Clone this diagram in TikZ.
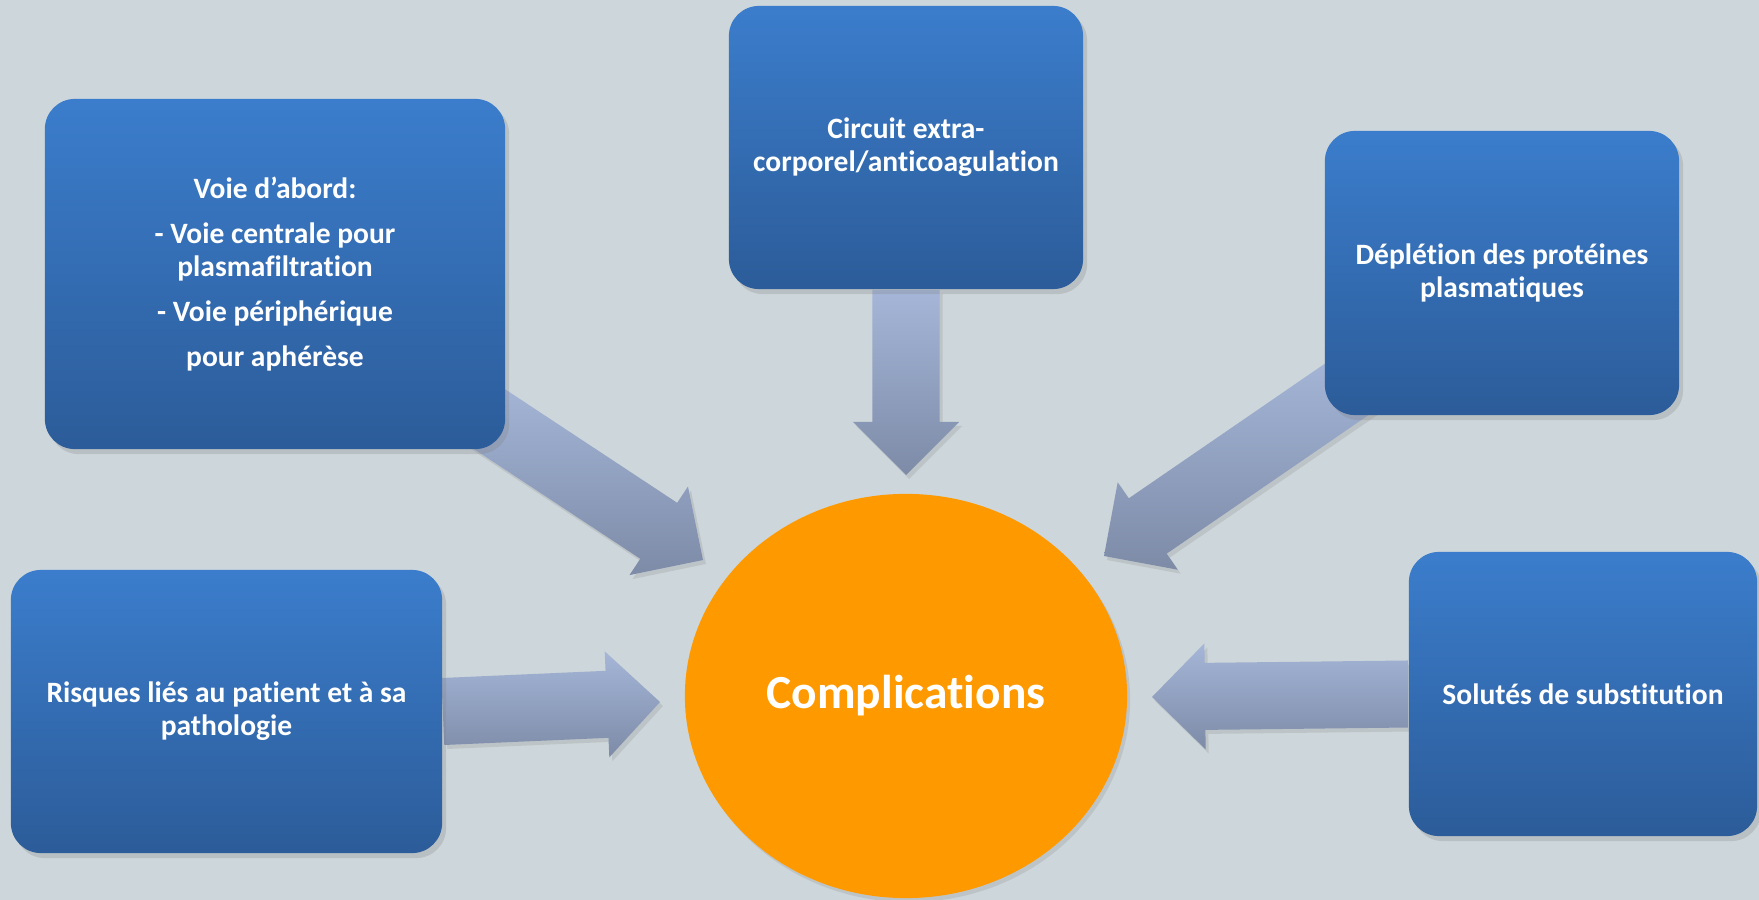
\documentclass[tikz,border=0pt]{standalone}
\usepackage{fontspec}
\setmainfont{Carlito}[Ligatures=NoCommon]
\usepackage{tikz}
\usetikzlibrary{calc,shapes.geometric,shadows}
\usepackage{xcolor}

\definecolor{bgpanel}{RGB}{205,214,218}
\definecolor{boxtop}{RGB}{59,125,204}
\definecolor{boxbot}{RGB}{44,92,153}
\definecolor{flowtop}{RGB}{165,182,216}
\definecolor{flowbot}{RGB}{125,139,167}
\definecolor{coreorange}{RGB}{255,153,0}

\pgfdeclarelayer{bg}
\pgfdeclarelayer{flows}
\pgfsetlayers{bg,flows,main}

% block arrow: #1 name, #2 start, #3 tip
\newcommand{\fatarrow}[3]{%
  \coordinate (#1h) at ($(#3)!0.53cm!(#2)$);
  \path[flow] ($(#2)!0.335cm!90:(#3)$) -- ($(#1h)!0.335cm!90:(#3)$)
    -- ($(#1h)!0.53cm!90:(#3)$) -- (#3) -- ($(#1h)!0.53cm!-90:(#3)$)
    -- ($(#1h)!0.335cm!-90:(#3)$) -- ($(#2)!0.335cm!-90:(#3)$) -- cycle;
}

\tikzset{
  box/.style={rectangle,rounded corners=0.3cm,top color=boxtop,bottom color=boxbot,
    text=white,align=center,inner sep=2pt,
    font=\fontsize{8.4}{9.4}\selectfont\bfseries,
    drop shadow={shadow xshift=0.04cm,shadow yshift=-0.05cm,opacity=0.25}},
  flow/.style={top color=flowtop,bottom color=flowbot,
    drop shadow={shadow xshift=0.03cm,shadow yshift=-0.04cm,opacity=0.2}},
  core/.style={ellipse,fill=coreorange,text=white,inner sep=0pt,
    minimum width=4.42cm,minimum height=4.04cm,
    font=\fontsize{13.5}{16}\selectfont\bfseries,
    drop shadow={shadow xshift=0.03cm,shadow yshift=-0.04cm,opacity=0.2}}
}

\begin{document}
\begin{tikzpicture}[x=0.01cm,y=-0.01cm]
\begin{pgfonlayer}{bg}
\fill[bgpanel] (0,0) rectangle (1759,900);
\end{pgfonlayer}
\useasboundingbox (0,0) rectangle (1759,900);

% centre
\node[core] (comp) at (906,696) {Complications};

% causes
\node[box,minimum width=4.6cm,minimum height=3.5cm] (abord) at (275,274)
  {Voie d’abord:\\[3.4pt] - Voie centrale pour\\ plasmafiltration\\[3.4pt]
   - Voie périphérique\\[3.4pt] pour aphérèse};
\node[box,minimum width=3.54cm,minimum height=2.83cm] (circuit) at (906,147.5)
  {Circuit extra-\\corporel/anticoagulation};
\node[box,minimum width=3.54cm,minimum height=2.84cm] (depl) at (1502,273)
  {Déplétion des protéines\\plasmatiques};
\node[box,minimum width=4.31cm,minimum height=2.83cm] (risk) at (226.5,711.5)
  {Risques liés au patient et à sa\\pathologie};
\node[box,minimum width=3.48cm,minimum height=2.84cm] (solut) at (1583,694)
  {Solutés de substitution};

% arrow tips
\coordinate (t1) at (703,560);
\coordinate (t2) at (906,475);
\coordinate (t3) at (1104,556);
\coordinate (t4) at (660,702);
\coordinate (t5) at (1152,697);

\begin{pgfonlayer}{flows}
\fatarrow{a1}{$(abord.south east)+(-35,-43)$}{t1}
\fatarrow{a2}{circuit.south}{t2}
\fatarrow{a3}{$(depl.south west)+(35,-35)$}{t3}
\fatarrow{a4}{risk.east}{t4}
\fatarrow{a5}{solut.west}{t5}
\end{pgfonlayer}
\end{tikzpicture}
\end{document}
